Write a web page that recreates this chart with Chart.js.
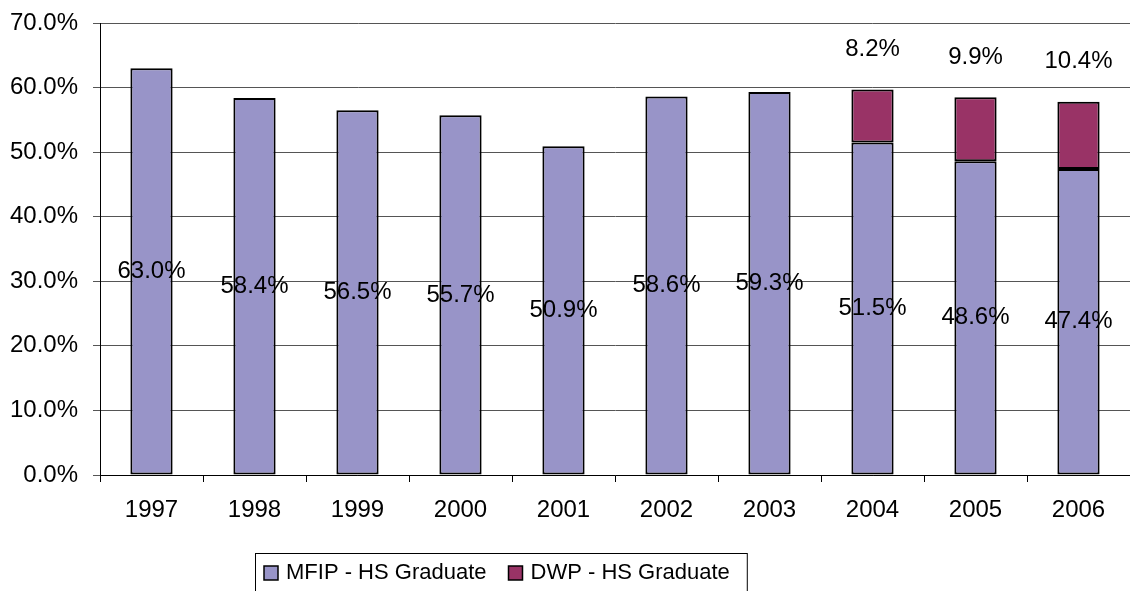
<!DOCTYPE html>
<html lang="en">
<head>
  <meta charset="UTF-8" />
  <title>MFIP / DWP - HS Graduate</title>
  <style>
    body {
      margin: 0;
      background-color: white;
    }
    #box {
      width: 1130px;
      height: 591px;
    }
  </style>
  <script src="https://cdn.jsdelivr.net/npm/chart.js"></script>
</head>
<body>
  <div id="box">
    <canvas id="grafico" width="1130" height="591"></canvas>
  </div>

  <script>
    const anos = ["1997", "1998", "1999", "2000", "2001", "2002", "2003", "2004", "2005", "2006"];
    const mfip = [63.0, 58.4, 56.5, 55.7, 50.9, 58.6, 59.3, 51.5, 48.6, 47.4];
    const dwp = [null, null, null, null, null, null, null, 8.2, 9.9, 10.4];
    const ticksY = [0, 10, 20, 30, 40, 50, 60, 70];

    const fonte = "'Liberation Sans', Arial, sans-serif";
    const corMfip = "#9894c8";
    const corDwp = "#993366";

    // rótulos de valor: MFIP no meio da barra, DWP acima da pilha
    const rotulos = {
      id: "rotulos",
      afterDatasetsDraw(chart) {
        const ctx = chart.ctx;
        ctx.save();
        ctx.font = "24px " + fonte;
        ctx.fillStyle = "#000";
        ctx.textAlign = "center";
        ctx.textBaseline = "middle";
        chart.data.datasets.forEach((ds, i) => {
          chart.getDatasetMeta(i).data.forEach((bar, j) => {
            const v = ds.data[j];
            if (v == null) return;
            const txt = v.toFixed(1) + "%";
            if (i === 0) {
              const c = bar.getCenterPoint();
              ctx.fillText(txt, c.x, c.y);
            } else {
              ctx.fillText(txt, bar.x, bar.y - 40);
            }
          });
        });
        ctx.restore();
      },
    };

    // legenda com moldura, como no original
    const legenda = {
      id: "legenda",
      afterDraw(chart) {
        const ctx = chart.ctx;
        ctx.save();
        ctx.font = "22px " + fonte;
        ctx.textBaseline = "middle";
        const itens = chart.data.datasets.map((ds) => ({
          nome: ds.label,
          cor: ds.backgroundColor,
          w: ctx.measureText(ds.label).width,
        }));
        const quad = 14, gap = 8, entre = 22, pad = 9;
        let largura = pad * 2 + 8;
        itens.forEach((it, k) => {
          largura += quad + gap + it.w + (k < itens.length - 1 ? entre : 0);
        });
        const x0 = 255, y0 = 553, alt = 38;
        ctx.strokeStyle = "#000";
        ctx.lineWidth = 1;
        ctx.strokeRect(x0 + 0.5, y0 + 0.5, largura, alt);
        let x = x0 + pad;
        const cy = y0 + 20;
        itens.forEach((it) => {
          ctx.fillStyle = it.cor;
          ctx.fillRect(x, cy - 7, quad, quad);
          ctx.lineWidth = 1.5;
          ctx.strokeRect(x, cy - 7, quad, quad);
          x += quad + gap;
          ctx.fillStyle = "#000";
          ctx.fillText(it.nome, x, cy);
          x += it.w + entre;
        });
        ctx.restore();
      },
    };

    const ctx = document.getElementById("grafico").getContext("2d");
    new Chart(ctx, {
      type: "bar",
      data: {
        labels: anos,
        datasets: [
          {
            label: "MFIP - HS Graduate",
            data: mfip,
            backgroundColor: corMfip,
            borderColor: "#000",
            borderWidth: 2,
            borderSkipped: false,
          },
          {
            label: "DWP - HS Graduate",
            data: dwp,
            backgroundColor: corDwp,
            borderColor: "#000",
            borderWidth: 2,
            borderSkipped: false,
          },
        ],
      },
      options: {
        responsive: false,
        animation: false,
        devicePixelRatio: 1,
        layout: { padding: { top: 23, right: 0, left: 0, bottom: 0 } },
        datasets: {
          bar: { categoryPercentage: 1.0, barPercentage: 0.41 },
        },
        plugins: {
          legend: { display: false },
          tooltip: { enabled: false },
        },
        scales: {
          x: {
            stacked: true,
            afterFit: (s) => {
              s.height = 116;
              s.paddingLeft = 0;
              s.paddingRight = 0;
            },
            grid: {
              offset: true,
              drawOnChartArea: false,
              drawTicks: true,
              tickLength: 7,
              color: "#000",
            },
            border: { color: "#000", width: 1 },
            ticks: {
              color: "#000",
              padding: 14,
              font: { family: fonte, size: 24 },
            },
          },
          y: {
            stacked: true,
            min: 0,
            max: 70,
            afterFit: (s) => {
              s.width = 100;
              s.paddingTop = 0;
              s.paddingBottom = 0;
            },
            afterBuildTicks: (s) => { s.ticks = ticksY.map((v) => ({ value: v })); },
            grid: {
              color: "#555",
              tickLength: 7,
              drawTicks: true,
            },
            border: { color: "#000", width: 1 },
            ticks: {
              color: "#000",
              padding: 15,
              font: { family: fonte, size: 24 },
              callback: (v) => v.toFixed(1) + "%",
            },
          },
        },
      },
      plugins: [rotulos, legenda],
    });
  </script>
</body>
</html>
